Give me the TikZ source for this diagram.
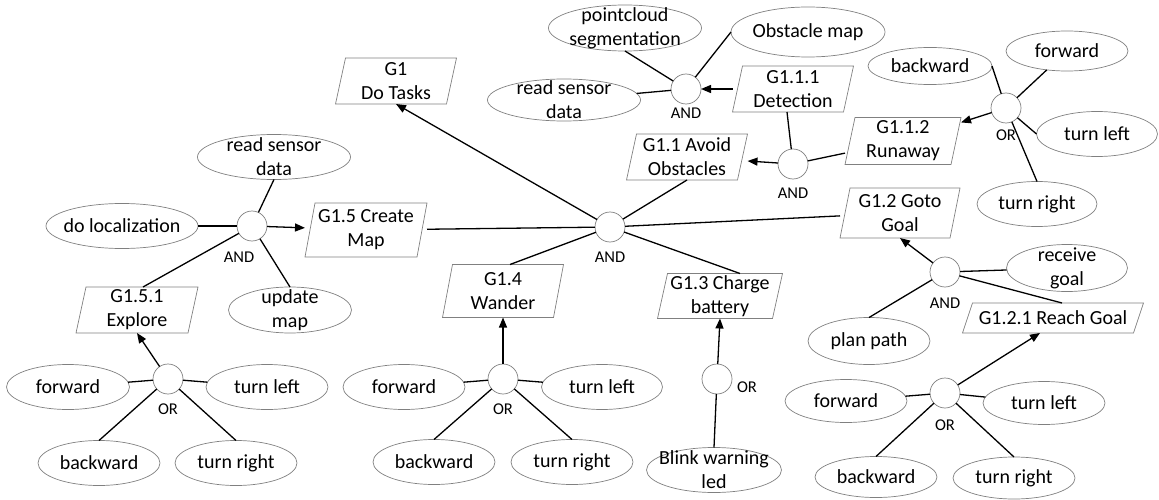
\documentclass[tikz,border=0pt]{standalone}
\usepackage{fontspec}
\setmainfont{Carlito}
\usetikzlibrary{shapes.geometric,arrows.meta}
\definecolor{shapegray}{RGB}{128,128,128}
\newcommand\goalbox[5]{%
  \node[goal, minimum width=#3, minimum height=#4] (#1) at (#2) {#5};
  \draw[shapeline] ([xshift=10pt]#1.north west) -- (#1.north east) -- ([xshift=-10pt]#1.south east) -- (#1.south west) -- cycle;}
\begin{document}
\begin{tikzpicture}[x=1pt,y=-1pt,
  mainfont/.style={font=\fontsize{20}{24}\selectfont},
  goal/.style={rectangle, inner sep=0pt, outer sep=0pt, align=center, mainfont},
  shapeline/.style={draw=shapegray, line width=0.7pt},
  ell/.style={ellipse, draw=shapegray, line width=0.7pt, fill=white, inner sep=0pt, outer sep=0pt},
  txt/.style={align=center, inner sep=0pt, mainfont},
  gate/.style={circle, draw=shapegray, line width=0.7pt, fill=white, minimum size=30pt, inner sep=0pt, outer sep=0pt},
  glab/.style={inner sep=0pt, font=\fontsize{16.5}{19}\selectfont},
  con/.style={draw=black, line width=1.3pt},
  arr/.style={con, -{Triangle[length=10pt,width=8pt]}},
]
\useasboundingbox (0,0) rectangle (1159,500);

% goal boxes
\goalbox{G1}{396,81}{121pt}{46pt}{G1\\Do Tasks}
\goalbox{G111}{793,89}{121pt}{46pt}{G1.1.1\\Detection}
\goalbox{G11}{687,157}{121pt}{46pt}{G1.1 Avoid\\Obstacles}
\goalbox{G112}{903,141}{116pt}{47pt}{G1.1.2\\Runaway}
\goalbox{G12}{900,213}{120pt}{50pt}{G1.2 Goto\\Goal}
\goalbox{G121}{1053,318}{181pt}{30pt}{G1.2.1 Reach Goal}
\goalbox{G13}{720,296}{125pt}{45pt}{G1.3 Charge\\battery}
\goalbox{G14}{503,291}{121pt}{53pt}{G1.4\\Wander}
\goalbox{G15}{366,230}{122pt}{54pt}{G1.5 Create\\Map}
\goalbox{G151}{137,310}{122pt}{46pt}{G1.5.1\\Explore}

% ellipses
\node[ell, minimum width=153pt, minimum height=46pt, label={[txt]center:pointcloud\\segmentation}] (pc) at (625,28) {};
\node[ell, minimum width=153pt, minimum height=42pt, label={[txt]center:read sensor\\data}] (rsd1) at (564,100) {};
\node[ell, minimum width=154pt, minimum height=50pt, label={[txt]center:Obstacle map}] (om) at (808,32) {};
\node[ell, minimum width=124pt, minimum height=37pt, label={[txt]center:backward}] (bw1) at (930,66) {};
\node[ell, minimum width=122pt, minimum height=40pt, label={[txt]center:forward}] (fw1) at (1067,51) {};
\node[ell, minimum width=121pt, minimum height=45pt, label={[txt]center:turn left}] (tl1) at (1097,134) {};
\node[ell, minimum width=120pt, minimum height=45pt, label={[txt]center:turn right}] (tr1) at (1037,204) {};
\node[ell, minimum width=121pt, minimum height=47pt, label={[txt]center:receive\\goal}] (rg) at (1067,268) {};
\node[ell, minimum width=122pt, minimum height=47pt, label={[txt]center:plan path}] (pp) at (869,341) {};
\node[ell, minimum width=122pt, minimum height=43pt, label={[txt]center:forward}] (fw5) at (846,401) {};
\node[ell, minimum width=122pt, minimum height=43pt, label={[txt]center:turn left}] (tl5) at (1044,403) {};
\node[ell, minimum width=122pt, minimum height=41pt, label={[txt]center:backward}] (bw5) at (876,477) {};
\node[ell, minimum width=122pt, minimum height=42pt, label={[txt]center:turn right}] (tr5) at (1014,478) {};
\node[ell, minimum width=122pt, minimum height=45pt, label={[txt]center:forward}] (fw4) at (404,387) {};
\node[ell, minimum width=121pt, minimum height=45pt, label={[txt]center:turn left}] (tl4) at (602,387) {};
\node[ell, minimum width=122pt, minimum height=45pt, label={[txt]center:backward}] (bw4) at (434,462) {};
\node[ell, minimum width=122pt, minimum height=45pt, label={[txt]center:turn right}] (tr4) at (572,462) {};
\node[ell, minimum width=135pt, minimum height=45pt, label={[txt]center:Blink warning\\led}] (blink) at (714,470) {};
\node[ell, minimum width=153pt, minimum height=45pt, label={[txt]center:read sensor\\data}] (rsd2) at (274,157) {};
\node[ell, minimum width=152pt, minimum height=45pt, label={[txt]center:do localization}] (dl) at (122,226) {};
\node[ell, minimum width=123pt, minimum height=46pt, label={[txt]center:update\\map}] (um) at (290,310) {};
\node[ell, minimum width=123pt, minimum height=45pt, label={[txt]center:forward}] (fw2) at (68,387) {};
\node[ell, minimum width=122pt, minimum height=45pt, label={[txt]center:turn left}] (tl2) at (267,387) {};
\node[ell, minimum width=122pt, minimum height=45pt, label={[txt]center:backward}] (bw2) at (99,463) {};
\node[ell, minimum width=122pt, minimum height=45pt, label={[txt]center:turn right}] (tr2) at (236,463) {};

% gates
\node[gate] (mainAND) at (610,227) {};
\node[gate] (detAND) at (686,89) {};
\node[gate] (avAND) at (793,164) {};
\node[gate] (rOR) at (1006,108) {};
\node[gate] (gAND) at (945,272) {};
\node[gate] (reOR) at (945,393) {};
\node[gate] (wOR) at (503,379) {};
\node[gate] (cOR) at (717,379) {};
\node[gate] (eOR) at (168,379) {};
\node[gate] (cmAND) at (252,226) {};

\node[glab] (lmain) at (610,257) {AND};
\node[glab] (ldet) at (686,113) {AND};
\node[glab] (lav) at (793,193) {AND};
\node[glab] (lr) at (1006,135) {OR};
\node[glab] (lg) at (945,303) {AND};
\node[glab] (lre) at (945,425) {OR};
\node[glab] (lw) at (503,409) {OR};
\node[glab] (lc) at (747,387) {OR};
\node[glab] (le) at (168,409) {OR};
\node[glab] (lcm) at (239,257) {AND};

% connectors
\draw[arr] (mainAND) -- (G1.south);
\draw[con] (mainAND) -- (G11.south);
\draw[con] (mainAND) -- (G12);
\draw[con] (mainAND) -- ([xshift=20pt]G13.north);
\draw[con] (mainAND) -- ([xshift=7pt]G14.north);
\draw[con] (mainAND) -- (G15);

\draw[arr] (G111) -- (detAND);
\draw[con] (detAND) -- (rsd1);
\draw[con] (detAND) -- (pc.south);
\draw[con] (detAND) -- (om.west);

\draw[arr] (avAND) -- (G11);
\draw[con] (avAND) -- ([xshift=-6pt]G111.south);
\draw[con] (avAND) -- (G112);

\draw[arr] (rOR) -- (G112);
\draw[con] (rOR) -- (bw1.east);
\draw[con] (rOR) -- (fw1);
\draw[con] (rOR) -- (tl1.west);
\draw[con] (rOR) -- (tr1.north);

\draw[arr] (gAND) -- (G12.south);
\draw[con] (gAND) -- (rg);
\draw[con] (gAND) -- ([xshift=9pt]G121.north);
\draw[con] (gAND) -- (pp.north);

\draw[arr] (reOR) -- ([xshift=-13pt]G121.south);
\draw[con] (reOR) -- (fw5);
\draw[con] (reOR) -- (tl5);
\draw[con] (reOR) -- (bw5.north);
\draw[con] (reOR) -- (tr5.north);

\draw[arr] (wOR) -- (G14.south);
\draw[con] (wOR) -- (fw4);
\draw[con] (wOR) -- (tl4);
\draw[con] (wOR) -- (bw4.north);
\draw[con] (wOR) -- (tr4.north);

\draw[arr] (cOR) -- (G13.south);
\draw[con] (cOR) -- (blink.north);

\draw[arr] (eOR) -- (G151.south);
\draw[con] (eOR) -- (fw2);
\draw[con] (eOR) -- (tl2);
\draw[con] (eOR) -- (bw2.north);
\draw[con] (eOR) -- (tr2.north);

\draw[arr] (cmAND) -- (G15);
\draw[con] (cmAND) -- (rsd2.south);
\draw[con] (cmAND) -- (dl);
\draw[con] (cmAND) -- ([xshift=6pt]G151.north);
\draw[con] (cmAND) -- (um.north);
\end{tikzpicture}
\end{document}
